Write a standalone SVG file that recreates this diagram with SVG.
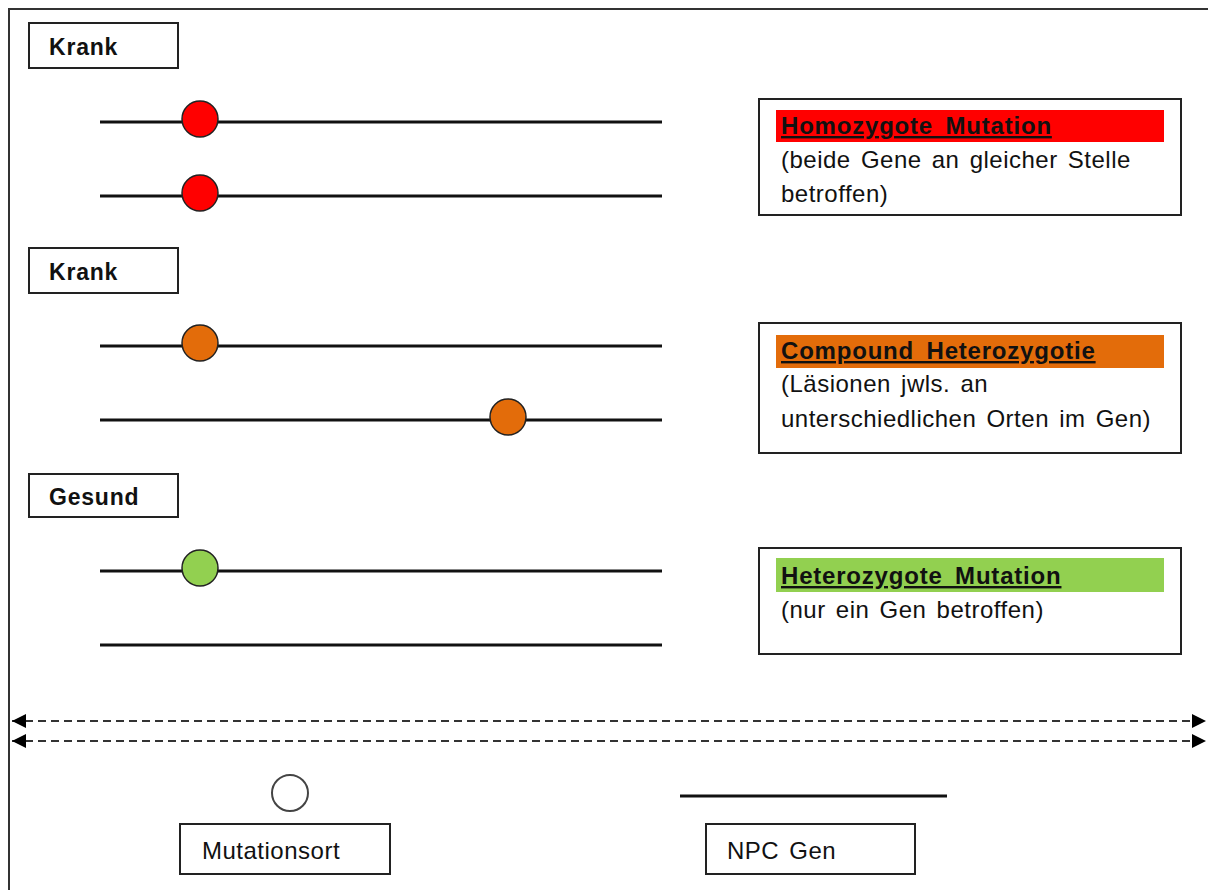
<svg xmlns="http://www.w3.org/2000/svg" width="1208" height="890" viewBox="0 0 1208 890">
<defs>
<style>
.box{fill:#fff;stroke:#222;stroke-width:2}
.lbl{font-family:"Liberation Sans",Arial,sans-serif;font-size:23px;font-weight:bold;fill:#111;letter-spacing:0.8px}
.txt{font-family:"Liberation Sans",Arial,sans-serif;font-size:24px;fill:#111;letter-spacing:0.5px;word-spacing:3px}
.ttl{font-family:"Liberation Sans",Arial,sans-serif;font-size:24px;font-weight:bold;fill:#111;text-decoration:underline;letter-spacing:0.8px;word-spacing:5px}
.gene{stroke:#111;stroke-width:3;fill:none}
.mut{stroke:#222;stroke-width:1.5}
.dash{stroke:#333;stroke-width:2;stroke-dasharray:8,5;fill:none}
</style>
<marker id="ah2" viewBox="0 0 14 14" refX="14" refY="7" markerWidth="14" markerHeight="14" markerUnits="userSpaceOnUse" orient="auto-start-reverse">
<path d="M0,0 L14,7 L0,14 z" fill="#000"/>
</marker>
</defs>
<rect x="0" y="0" width="1208" height="890" fill="#fff"/>
<path d="M9,890 V9 H1208" fill="none" stroke="#333" stroke-width="2"/>

<g id="label-krank1"><rect class="box" x="29" y="23" width="149" height="45"/><text class="lbl" x="49" y="55">Krank</text></g>
<g id="label-krank2"><rect class="box" x="29" y="248" width="149" height="45"/><text class="lbl" x="49" y="280">Krank</text></g>
<g id="label-gesund"><rect class="box" x="29" y="474" width="149" height="43"/><text class="lbl" x="49" y="505">Gesund</text></g>

<g id="genes">
<line class="gene" x1="100" y1="122" x2="662" y2="122"/>
<line class="gene" x1="100" y1="196" x2="662" y2="196"/>
<line class="gene" x1="100" y1="346" x2="662" y2="346"/>
<line class="gene" x1="100" y1="420" x2="662" y2="420"/>
<line class="gene" x1="100" y1="571" x2="662" y2="571"/>
<line class="gene" x1="100" y1="645" x2="662" y2="645"/>
</g>
<g id="mutations">
<circle class="mut" cx="200" cy="119" r="18" fill="#FF0000"/>
<circle class="mut" cx="200" cy="193" r="18" fill="#FF0000"/>
<circle class="mut" cx="200" cy="343" r="18" fill="#E36C0A"/>
<circle class="mut" cx="508" cy="417" r="18" fill="#E36C0A"/>
<circle class="mut" cx="200" cy="568" r="18" fill="#92D050"/>
</g>

<g id="legend-homo">
<rect class="box" x="759" y="99" width="422" height="116"/>
<rect x="776" y="110" width="388" height="32" fill="#FF0000"/>
<text class="ttl" x="781" y="134">Homozygote Mutation</text>
<text class="txt" x="781" y="168">(beide Gene an gleicher Stelle</text>
<text class="txt" x="781" y="202">betroffen)</text>
</g>
<g id="legend-compound">
<rect class="box" x="759" y="323" width="422" height="130"/>
<rect x="776" y="335" width="388" height="33" fill="#E36C0A"/>
<text class="ttl" x="781" y="359">Compound Heterozygotie</text>
<text class="txt" x="781" y="392">(Läsionen jwls. an</text>
<text class="txt" x="781" y="427">unterschiedlichen Orten im Gen)</text>
</g>
<g id="legend-hetero">
<rect class="box" x="759" y="548" width="422" height="106"/>
<rect x="776" y="558" width="388" height="34" fill="#92D050"/>
<text class="ttl" x="781" y="584">Heterozygote Mutation</text>
<text class="txt" x="781" y="618">(nur ein Gen betroffen)</text>
</g>

<g id="connectors">
<line class="dash" x1="12" y1="721" x2="1206" y2="721" marker-start="url(#ah2)" marker-end="url(#ah2)"/>
<line class="dash" x1="12" y1="741" x2="1206" y2="741" marker-start="url(#ah2)" marker-end="url(#ah2)"/>
</g>

<g id="key-mutation">
<circle cx="290" cy="793" r="18" fill="#fff" stroke="#444" stroke-width="2"/>
<rect class="box" x="180" y="824" width="210" height="50"/>
<text class="txt" x="202" y="859">Mutationsort</text>
</g>
<g id="key-gene">
<line class="gene" x1="680" y1="796" x2="947" y2="796"/>
<rect class="box" x="706" y="824" width="209" height="50"/>
<text class="txt" x="727" y="859">NPC Gen</text>
</g>
</svg>
